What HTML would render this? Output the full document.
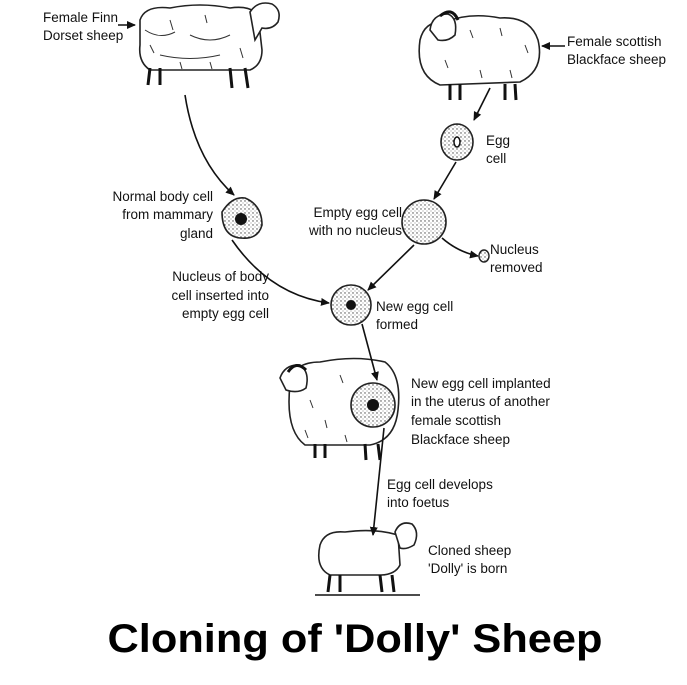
<!DOCTYPE html>
<html><head><meta charset="utf-8"><style>
html,body{margin:0;padding:0;background:#fff;width:687px;height:685px;overflow:hidden}
svg{display:block}
text{font-family:"Liberation Sans",sans-serif;font-size:13.5px;fill:#111}
.t{font-family:"Liberation Sans",sans-serif;font-weight:bold;font-size:40px;fill:#000}
.s{fill:#fff;stroke:#222;stroke-width:1.6}
.l{fill:none;stroke:#111;stroke-width:1.6}
.w{fill:none;stroke:#333;stroke-width:1}
.g{fill:none;stroke:#111;stroke-width:3}
</style></head><body>
<svg width="687" height="685" viewBox="0 0 687 685">
<defs>
<marker id="a" markerWidth="10" markerHeight="10" refX="8" refY="5" orient="auto" markerUnits="userSpaceOnUse">
<path d="M0,1 L9,5 L0,9 Z" fill="#111"/></marker>
<pattern id="d" width="4" height="4" patternUnits="userSpaceOnUse"><rect width="4" height="4" fill="#fff"/><circle cx="1" cy="1" r="0.7" fill="#444"/><circle cx="3" cy="3" r="0.5" fill="#666"/></pattern>
</defs>

<!-- Sheep 1 -->
<g>
<path class="s" d="M140,20 Q145,5 170,8 Q200,2 230,8 Q250,5 258,15 L262,50 Q262,65 250,70 L150,70 Q138,62 140,45 Z"/>
<path class="s" d="M250,12 Q258,0 272,4 Q282,10 278,22 Q272,30 262,28 L255,40 Z"/>
<path class="g" d="M150,68 L148,85 M160,68 L160,85 M230,68 L232,88 M245,68 L248,88"/>
<path class="w" d="M145,30 Q160,40 175,32 M190,35 Q210,45 230,35 M160,55 Q190,62 220,55 M150,45 l4,8 M170,20 l3,10 M205,15 l2,8 M240,48 l3,10 M180,62 l2,7 M210,62 l2,7"/>
</g>
<!-- Sheep 2 -->
<g>
<path class="s" d="M420,40 Q425,20 445,22 Q470,12 500,18 Q530,16 538,40 Q545,70 520,82 L440,85 Q415,75 420,40 Z"/>
<path class="s" d="M430,30 Q432,14 448,14 Q458,18 455,35 Q448,42 438,40 Z"/>
<path class="g" d="M440,16 Q452,6 458,20"/>
<path class="g" d="M450,84 L450,100 M460,84 L460,100 M505,84 L505,100 M515,84 L516,100"/>
<path class="w" d="M470,30 l3,8 M500,28 l2,8 M525,45 l3,8 M445,60 l3,8 M480,70 l2,8 M510,70 l2,8"/>
</g>
<!-- Sheep 3 -->
<g>
<path class="s" d="M290,385 Q292,362 320,362 Q355,355 385,362 Q402,375 398,410 Q395,440 370,445 L305,445 Q285,430 290,385 Z"/>
<path class="s" d="M280,378 Q285,364 300,365 Q310,372 306,388 Q298,394 286,390 Z"/>
<path class="g" d="M288,372 Q296,360 306,370"/>
<path class="g" d="M315,444 L315,458 M325,444 L325,458 M365,444 L366,460 M378,444 L380,460"/>
<path class="w" d="M310,400 l3,8 M325,420 l2,8 M340,375 l3,8 M305,430 l3,8 M345,435 l2,7"/>
</g>
<circle cx="373" cy="405" r="22" stroke="#222" stroke-width="1.6" style="fill:url(#d)"/>
<circle cx="373" cy="405" r="6" fill="#111"/>
<!-- Sheep 4 -->
<g>
<path class="s" d="M320,545 Q325,530 345,532 Q375,528 398,535 L400,565 Q395,575 380,575 L330,575 Q315,568 320,545 Z"/>
<path class="s" d="M395,532 Q400,520 412,524 Q420,532 414,545 Q406,550 400,548 Z"/>
<path class="g" d="M330,575 L328,592 M340,575 L340,592 M380,575 L382,592 M392,575 L394,592"/>
<path class="l" d="M315,595 L420,595" stroke-width="1"/>
</g>

<!-- cells -->
<ellipse cx="457" cy="142" rx="16" ry="18" style="fill:url(#d)" stroke="#222" stroke-width="1.6"/>
<ellipse cx="457" cy="142" rx="3" ry="5" fill="#fff" stroke="#111" stroke-width="1.5"/>
<circle cx="424" cy="222" r="22" style="fill:url(#d)" stroke="#222" stroke-width="1.6"/>
<ellipse cx="484" cy="256" rx="5" ry="6" style="fill:url(#d)" stroke="#222" stroke-width="1.4"/>
<path d="M222,212 Q232,196 245,198 Q262,205 262,225 Q258,240 240,238 Q222,236 222,212 Z" style="fill:url(#d)" stroke="#222" stroke-width="1.6"/>
<circle cx="241" cy="219" r="6" fill="#111"/>
<circle cx="351" cy="305" r="20" style="fill:url(#d)" stroke="#222" stroke-width="1.6"/>
<circle cx="351" cy="305" r="5" fill="#111"/>

<!-- arrows -->
<path class="l" d="M118,25 L135,25" marker-end="url(#a)"/>
<path class="l" d="M565,46 L542,46" marker-end="url(#a)"/>
<path class="l" d="M185,95 Q195,160 234,195" marker-end="url(#a)"/>
<path class="l" d="M490,88 L474,120" marker-end="url(#a)"/>
<path class="l" d="M456,162 L434,199" marker-end="url(#a)"/>
<path class="l" d="M442,238 Q458,252 478,256" marker-end="url(#a)"/>
<path class="l" d="M414,245 L368,290" marker-end="url(#a)"/>
<path class="l" d="M232,240 Q270,295 329,303" marker-end="url(#a)"/>
<path class="l" d="M362,324 L377,380" marker-end="url(#a)"/>
<path class="l" d="M384,428 L373,535" marker-end="url(#a)"/>

<!-- labels -->
<text x="43" y="22">Female Finn</text>
<text x="43" y="40">Dorset sheep</text>
<text x="567" y="46">Female scottish</text>
<text x="567" y="64">Blackface sheep</text>
<text x="486" y="145">Egg</text>
<text x="486" y="163">cell</text>
<g text-anchor="end">
<text x="213" y="201">Normal body cell</text>
<text x="213" y="219">from mammary</text>
<text x="213" y="238">gland</text>
<text x="402" y="217">Empty egg cell</text>
<text x="402" y="235">with no nucleus</text>
<text x="269" y="281">Nucleus of body</text>
<text x="269" y="300">cell inserted into</text>
<text x="269" y="318">empty egg cell</text>
</g>
<text x="490" y="254">Nucleus</text>
<text x="490" y="272">removed</text>
<text x="376" y="311">New egg cell</text>
<text x="376" y="329">formed</text>
<text x="411" y="388">New egg cell implanted</text>
<text x="411" y="406">in the uterus of another</text>
<text x="411" y="425">female scottish</text>
<text x="411" y="444">Blackface sheep</text>
<text x="387" y="489">Egg cell develops</text>
<text x="387" y="507">into foetus</text>
<text x="428" y="555">Cloned sheep</text>
<text x="428" y="573">'Dolly' is born</text>

<text class="t" x="355" y="652" text-anchor="middle" textLength="495" lengthAdjust="spacingAndGlyphs">Cloning of 'Dolly' Sheep</text>
</svg>
</body></html>
